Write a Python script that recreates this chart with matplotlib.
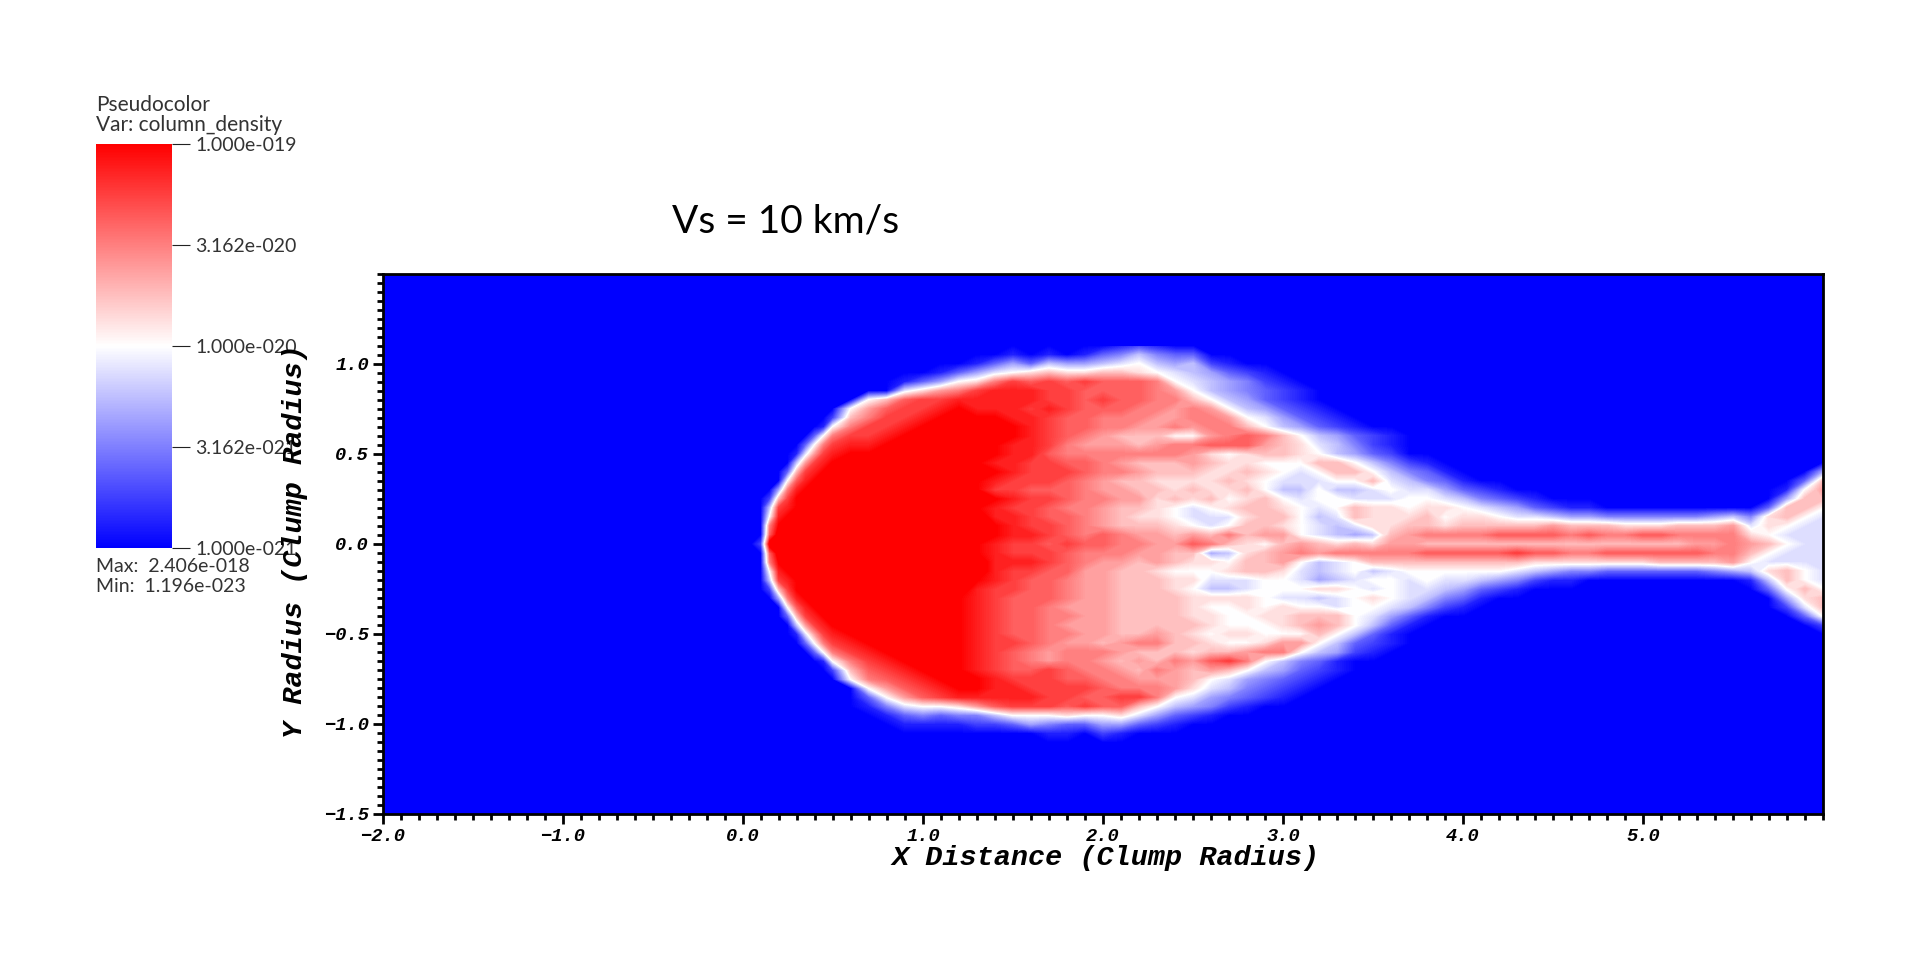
import numpy as np
import matplotlib
matplotlib.use("Agg")
import matplotlib.pyplot as plt
from matplotlib.cm import ScalarMappable
from matplotlib.colors import Normalize
from matplotlib.font_manager import FontProperties
from matplotlib.ticker import FixedLocator, MultipleLocator

# column density, one base-18 digit per grid point
# 0 = blue (1e-21), 8 = white (1e-20), g = red (1e-19), h = above the scale
# columns: x = 0.00..0.50 by 0.05, then 0.6..6.0 by 0.1 (spaces only group them)
x_nose = [0.00, 0.05, 0.10, 0.15, 0.20, 0.25, 0.30, 0.35, 0.40, 0.45, 0.50]
x_tail = [round(0.6 + 0.1 * i, 1) for i in range(55)]
x_grid = x_nose + x_tail
y_grid = [round(1.10 - 0.05 * i, 2) for i in range(45)]

density_rows = [
    "00000000000 0000000000 0000012100 0000000000 0000000000 0000000000 00000",
    "00000000000 0000000001 0101346433 0000000000 0000000000 0000000000 00000",
    "00000000000 0000000135 3655678656 2100000000 0000000000 0000000000 00000",
    "00000000000 0000013578 9a99aa9876 5321000000 0000000000 0000000000 00000",
    "00000000000 00013589ce deded ddc87 6542100000 0000000000 0000000000 00000",
    "00000000000 00079bceff feeddddcb8 6543210000 0000000000 0000000000 00000",
    "00000000000 08adeeffff feededdcca 8653210000 0000000000 0000000000 00000",
    "00000000000 8bdeefgfff efedddccbc b865321000 0000000000 0000000000 00000",
    "00000000002 aceefggggf feddcccbbc cb87532100 0000000000 0000000000 00000",
    "00000000018 ceefggghhg feddccbbcb cca8653210 0000000000 0000000000 00000",
    "0000000038c eefgghhhgg fedcbaaa88 bcdca86532 1000000000 0000000000 00000",
    "000000038ce ffgghhhggf fecbbbabcc dddba97642 1000000000 0000000000 00000",
    "00000017bef gghhhhhhgf fdcccccccb 989aa98653 2000000000 0000000000 00000",
    "0000006befg ghhhhhhgff eeddcbaaab a998 88aa86 4210000000 0000000000 00000",
    "000003aefgg hhhhhhhggf eeedccbaaa 99a9878aa8 6431000000 0000000000 00005",
    "000008dfghh hhhhhhggfe eedcbaa999 9a9877788a 7643100000 0000000000 0003a",
    "00005cfghhh hhhhhhggee dddcbbaa9a 99a8668667 8775321000 0000000000 0018b",
    "0002aeghhhh hhhhhhhhgf eedccbb9a9 a89a878877 7887643210 0000000000 005aa",
    "0006efghhhh hhhhhhhgfe edccbaa987 89aa9878a9 9899876532 1100000000 03aa8",
    "0008fghhhhh hhhhhhhhff eddcba9987 779aa867a9 99a8998776 5544444456 49a87",
    "000cghhhhhh hhhhhhhhgf eedcbaaa98 78aa987679 9aa9aaaaab aaa999aaab 79877",
    "000dhhhhhhh hhhhhhhhgf fedcdcbbab acabb87656 abccccdddd cdccddcccc 98777",
    "002hhhhhhhh hhhhhhggfe ededdccbbd ca98aba9a9 bbaaaaaaaa aaaaaaabbc ba877",
    "000dhhhhhhh hhhhhhhgfe eedcccbbaa 569abcbccc ccdddddedd ccddddddcc a8777",
    "000cghhhhhh hhhhhhhhff fedcbbaba9 98aab8678a aaaaaaaa99 99999aaaab 87777",
    "0008fghhhhh hhhhhhhhfe eddbbaa988 89aa976786 7888888765 4433333345 69a87",
    "0006efghhhh hhhhhhhgfe ddcbbaaa99 7778875678 8787765421 1000000000 16a87",
    "0002aeghhhh hhhhhhhfee ddcbbaaa98 6678889987 8776532100 0000000000 038a8",
    "00005cfghhh hhhhhhgfed ddcbbaaaa9 9998776789 8764310000 0000000000 0059a",
    "000008dfghh hhhhhhgfed dcbbbaaaa9 8898988788 7642100000 0000000000 0027a",
    "000003aefgg hhhhhggfed dccbbaaaa9 98899aaa87 5310000000 0000000000 00038",
    "0000006befg ghhhhhgfed dcbbbaaaaa 98889aba86 3100000000 0000000000 00002",
    "00000017bef gghhhhgfed dccbbaaba9 899888a863 1000000000 0000000000 00000",
    "000000038ce fgghhhgfee dcbbabccaa 9889bb8632 1000000000 0000000000 00000",
    "0000000038c efgghhgfed cbcccbaaa9 aabcc86521 0000000000 0000000000 00000",
    "00000000018 cefggggfed cbccbabacb dec8643100 0000000000 0000000000 00000",
    "00000000002 adefgggfed dedccbacba ba86532100 0000000000 0000000000 00000",
    "00000000000 8cdefgggfe eeddccbbba 8754321000 0000000000 0000000000 00000",
    "00000000000 08bdefggff eeeedcccb9 7643210000 0000000000 0000000000 00000",
    "00000000000 038bdeffff feeddeec87 5432100000 0000000000 0000000000 00000",
    "00000000000 0147889bde eededda865 4210000000 0000000000 0000000000 00000",
    "00000000000 0013434468 8898897532 1000000000 0000000000 0000000000 00000",
    "00000000000 0001111223 5433553210 0000000000 0000000000 0000000000 00000",
    "00000000000 0000000000 0110210000 0000000000 0000000000 0000000000 00000",
    "00000000000 0000000000 0000000000 0000000000 0000000000 0000000000 00000",
]

x_major = [-2, -1, 0, 1, 2, 3, 4, 5]
y_major = [-1.5, -1.0, -0.5, 0.0, 0.5, 1.0]
cbar_ticks = [-21, -20.5, -20, -19.5, -19]
cbar_labels = ["1.000e-021", "3.162e-021", "1.000e-020", "3.162e-020", "1.000e-019"]

digits = np.array([[int(c, 18) for c in row.replace(" ", "")] for row in density_rows], dtype=float)
log_density = -21 + digits / 8

W, H = 1920, 958


def to_fig(px, py):
    """Pixel (origen arriba) a coordenadas de figura."""
    return px / W, 1 - py / H


def axis_label(v, pos):
    return f"{v:.1f}".replace("-", "\u2212")


plt.rcParams["font.family"] = ["Lato", "DejaVu Sans"]
fig = plt.figure(figsize=(W / 100, H / 100), dpi=100, facecolor="white")

# panel principal
left, top = to_fig(383, 274)
right, bottom = to_fig(1823, 814)
ax = fig.add_axes([left, bottom, right - left, top - bottom], facecolor=(0, 0, 1))
levels = np.linspace(-21, -19, 129)
ax.contourf(x_grid, y_grid, log_density, levels=levels, cmap="bwr", extend="both")
ax.set_xlim(-2, 6)
ax.set_ylim(-1.5, 1.5)

mono = dict(family="Liberation Mono", weight="bold", style="italic")
ax.xaxis.set_major_locator(FixedLocator(x_major))
ax.xaxis.set_minor_locator(MultipleLocator(0.1))
ax.yaxis.set_major_locator(FixedLocator(y_major))
ax.yaxis.set_minor_locator(MultipleLocator(0.05))
ax.tick_params(which="major", length=7, width=2, pad=3)
ax.tick_params(which="minor", length=4, width=2)
ax.xaxis.set_major_formatter(axis_label)
ax.yaxis.set_major_formatter(axis_label)
for lab in ax.get_xticklabels() + ax.get_yticklabels():
    lab.set_fontproperties(FontProperties(size=13.5, **mono))
for s in ax.spines.values():
    s.set_linewidth(2)

fx, fy = to_fig(1106, 858)
fig.text(fx, fy, "X Distance (Clump Radius)", ha="center", va="center", fontsize=20.5, **mono)
fx, fy = to_fig(295, 541)
fig.text(fx, fy, "Y Radius (Clump Radius)", ha="center", va="center", rotation=90, fontsize=20.5, **mono)

# barra de color
c_l, c_t = to_fig(96, 144)
c_r, c_b = to_fig(172, 548)
cax = fig.add_axes([c_l, c_b, c_r - c_l, c_t - c_b])
sm = ScalarMappable(norm=Normalize(-21, -19), cmap="bwr")
cb = fig.colorbar(sm, cax=cax, ticks=cbar_ticks)
cb.ax.set_yticklabels(cbar_labels, fontsize=14, color="#333333")
cb.ax.tick_params(length=13, width=0.8, pad=4, color="#222222")
cb.outline.set_visible(False)

for px, py, txt, fs in [(96, 105, "Pseudocolor", 15), (96, 125, "Var: column_density", 15),
                        (96, 567, "Max:  2.406e-018", 14), (96, 586, "Min:  1.196e-023", 14)]:
    fx, fy = to_fig(px, py)
    fig.text(fx, fy, txt, ha="left", va="center", fontsize=fs, color="#333333")

fx, fy = to_fig(672, 222)
fig.text(fx, fy, "Vs = 10 km/s", ha="left", va="center", fontsize=28, color="black")

fig.savefig("out.png", dpi=100)
